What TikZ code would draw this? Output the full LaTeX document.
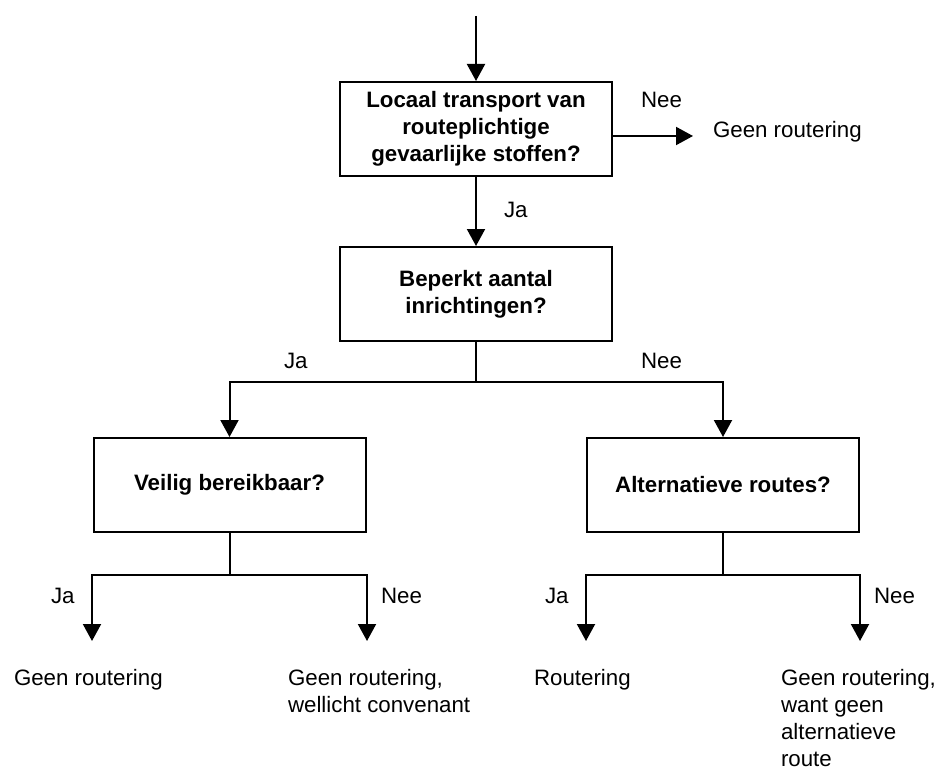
\documentclass[tikz,border=0pt]{standalone}
\usepackage{fontspec}
\setmainfont{Liberation Sans}
\usetikzlibrary{arrows.meta}
\begin{document}
\begin{tikzpicture}[x=1pt,y=-1pt,
  font=\fontsize{22.3}{27}\selectfont,
  line width=2pt,
  box/.style={draw, line width=2pt, minimum width=272pt, minimum height=94pt, align=center,
    font=\fontsize{22.3}{27}\selectfont\bfseries, inner sep=0pt},
  arr/.style={-{Triangle[length=17pt,width=18pt]}},
  lbl/.style={anchor=base west, inner sep=0pt},
  res/.style={anchor=north west, inner sep=0pt, align=left}
]
\useasboundingbox (0,0) rectangle (939,770);

% boxes
\node[box] (b1) at (476,129) {Locaal transport van\\routeplichtige\\gevaarlijke stoffen?};
\node[box] (b2) at (476,294) {Beperkt aantal\\inrichtingen?};
\node[box] (b3) at (229.5,485) {Veilig bereikbaar?};
\node[box] (b4) at (723,485) {Alternatieve routes?};

% results
\node[lbl] (g1) at (712,138) {Geen routering};
\node[res] (r1) at (13,668) {Geen routering};
\node[res] (r2) at (287,668) {Geen routering,\\wellicht convenant};
\node[res] (r3) at (533,668) {Routering};
\node[res] (r4) at (780,668) {Geen routering,\\want geen\\alternatieve\\route};

% labels
\node[lbl] (n1) at (640,108) {Nee};
\node[lbl] (j1) at (503,218) {Ja};
\node[lbl] (j2) at (283,368) {Ja};
\node[lbl] (n2) at (640,368) {Nee};
\node[lbl] (j3) at (50,603) {Ja};
\node[lbl] (n3) at (380,603) {Nee};
\node[lbl] (j4) at (544,603) {Ja};
\node[lbl] (n4) at (873,603) {Nee};

% coordinates
\coordinate (top) at (476,16);
\coordinate (c1) at (693,136);
\coordinate (f1) at (476,382);
\coordinate (f2) at (229.5,575);
\coordinate (f3) at (723,575);
\coordinate (c2) at (92,641);
\coordinate (c3) at (367,641);
\coordinate (c4) at (586,641);
\coordinate (c5) at (860,641);

% connectors
\draw[arr] (top) -- (b1.north);
\draw[arr] (b1.east |- c1) -- (c1);
\draw[arr] (b1.south) -- (b2.north);
\draw (b2.south) -- (f1);
\draw[arr] (f1) -| (b3.north);
\draw[arr] (f1) -| (b4.north);
\draw (b3.south) -- (f2);
\draw[arr] (f2) -| (c2);
\draw[arr] (f2) -| (c3);
\draw (b4.south) -- (f3);
\draw[arr] (f3) -| (c4);
\draw[arr] (f3) -| (c5);
\end{tikzpicture}
\end{document}
